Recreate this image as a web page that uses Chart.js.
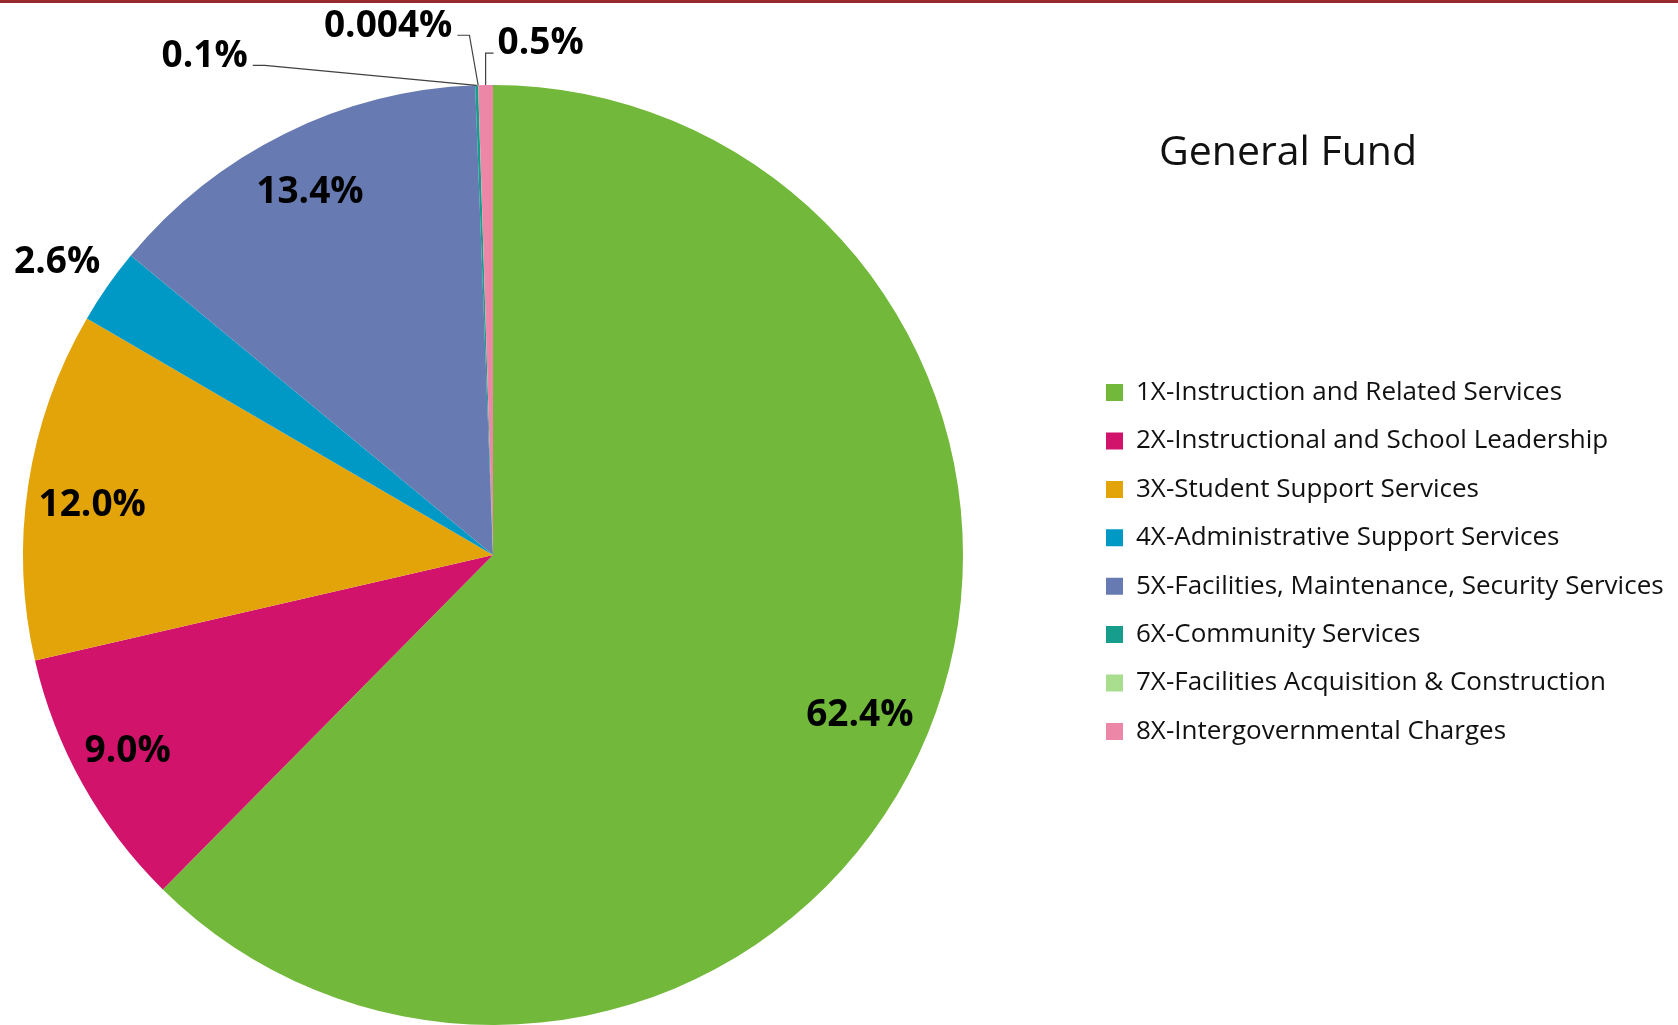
<!DOCTYPE html>
<html>
<head>
<meta charset="utf-8">
<title>General Fund</title>
<script src="https://cdn.jsdelivr.net/npm/chart.js@4.4.1/dist/chart.umd.min.js"></script>
<style>
  html, body { margin: 0; padding: 0; background: #fff; }
  #wrap { position: relative; width: 1678px; height: 1025px; overflow: hidden; }
  #topBar { position: absolute; left: 0; top: 0; width: 100%; height: 3px; background: #962a2e; }
</style>
</head>
<body>
<div id="wrap">
  <canvas id="fundChart"></canvas>
  <div id="topBar"></div>
</div>
<script>
var categories = [
  '1X-Instruction and Related Services',
  '2X-Instructional and School Leadership',
  '3X-Student Support Services',
  '4X-Administrative Support Services',
  '5X-Facilities, Maintenance, Security Services',
  '6X-Community Services',
  '7X-Facilities Acquisition & Construction',
  '8X-Intergovernmental Charges'
];
var shares = [62.4, 9.0, 12.0, 2.6, 13.4, 0.1, 0.004, 0.5];
var sliceColors = ['#72b83a', '#d1136c', '#e3a40a', '#0099c5', '#677bb2', '#169d8b', '#a8de8e', '#ed87a7'];
var chartTitle = 'General Fund';

var FONT = "'Open Sans', sans-serif";
var legendSize = 26;
var rowGap = 22.4;
var boxSize = 17;

// where the legend squares start and where the pie's area ends
var legendBoxX = 1106;
var pieRight = 986;

// label placement: share of the radius (+ small turn in degrees), or an offset from the slice edge
var labelPlacement = [
  {r: 0.85, turn: 1},
  {r: 0.88, turn: 1.2},
  {r: 0.86, turn: -1.2},
  {r: 1.12, turn: -0.8},
  {r: 0.87, turn: -0.3},
  {dx: -272, dy: -32, leader: true},
  {dx: -90, dy: -62, leader: true},
  {dx: 55, dy: -44, leader: true}
];

function measure(str, font) {
  var c = document.createElement('canvas').getContext('2d');
  c.font = font;
  return c.measureText(str).width;
}

function formatShare(v) {
  return (v < 0.01 ? v.toFixed(3) : v.toFixed(1)) + '%';
}

var widest = 0;
categories.forEach(function(c) {
  widest = Math.max(widest, measure(c, legendSize + 'px ' + FONT));
});
var legendLeft = legendBoxX - rowGap;
var legendWidth = rowGap + boxSize + legendSize / 2 + widest + 10;
var rightPad = Math.max(0, 1678 - legendLeft - legendWidth);
var gapWidth = legendLeft - pieRight;

// empty box between the pie and the legend
var legendGap = {
  id: 'legendGap',
  beforeInit: function(chart) {
    Chart.layouts.addBox(chart, {
      position: 'right',
      weight: 500,
      fullSize: false,
      options: {display: false},
      left: 0, top: 0, right: 0, bottom: 0, width: 0, height: 0,
      isHorizontal: function() { return false; },
      update: function(maxWidth, maxHeight) {
        this.width = gapWidth;
        this.height = maxHeight;
      },
      draw: function() {}
    });
  }
};

var valueLabels = {
  id: 'valueLabels',
  afterDatasetsDraw: function(chart) {
    var ctx = chart.ctx;
    var arcs = chart.getDatasetMeta(0).data;
    var size = 37;
    ctx.save();
    ctx.font = 'bold ' + size + 'px ' + FONT;
    ctx.fillStyle = '#000';
    ctx.textAlign = 'center';
    ctx.textBaseline = 'alphabetic';
    arcs.forEach(function(arc, i) {
      var p = arc.getProps(['x', 'y', 'startAngle', 'endAngle', 'outerRadius'], true);
      var mid = (p.startAngle + p.endAngle) / 2;
      var place = labelPlacement[i];
      var text = formatShare(shares[i]);
      var ax = p.x + Math.cos(mid) * p.outerRadius;
      var ay = p.y + Math.sin(mid) * p.outerRadius;
      var cx, cy;
      if (place.dx !== undefined) {
        cx = ax + place.dx;
        cy = ay + place.dy;
      } else {
        var a = mid + (place.turn || 0) * Math.PI / 180;
        cx = p.x + Math.cos(a) * p.outerRadius * place.r;
        cy = p.y + Math.sin(a) * p.outerRadius * place.r;
      }
      ctx.fillText(text, cx, cy + size * 0.36);

      if (place.leader) {
        var w = ctx.measureText(text).width;
        var sx, ex;
        var sy = cy + 12;
        if (cx < ax) {
          sx = cx + w / 2 + 5;
          ex = Math.min(ax, sx + 12);
        } else {
          sx = cx - w / 2 - 4;
          ex = Math.max(ax, sx - 12);
        }
        ctx.beginPath();
        ctx.moveTo(sx, sy);
        ctx.lineTo(ex, sy);
        ctx.lineTo(ax, ay);
        ctx.strokeStyle = '#404040';
        ctx.lineWidth = 1.2;
        ctx.stroke();
      }
    });
    ctx.restore();
  },
  afterDraw: function(chart) {
    var ctx = chart.ctx;
    ctx.save();
    ctx.font = '41px ' + FONT;
    ctx.fillStyle = '#111';
    ctx.textAlign = 'center';
    ctx.textBaseline = 'alphabetic';
    ctx.fillText(chartTitle, 1288, 165);
    ctx.restore();
  }
};

var fundChart = new Chart(document.getElementById('fundChart'), {
  type: 'pie',
  data: {
    labels: categories,
    datasets: [{
      data: shares,
      backgroundColor: sliceColors,
      borderWidth: 0,
      hoverOffset: 0
    }]
  },
  options: {
    responsive: true,
    maintainAspectRatio: false,
    animation: false,
    layout: {
      padding: {top: 85, bottom: 0, left: 0, right: rightPad}
    },
    plugins: {
      tooltip: {enabled: false},
      legend: {
        position: 'right',
        align: 'center',
        title: {display: true, text: '', padding: 0, font: {size: 14, lineHeight: 1}},
        labels: {
          boxWidth: boxSize,
          boxHeight: boxSize,
          padding: rowGap,
          color: '#111',
          font: {family: FONT, size: legendSize}
        }
      }
    }
  },
  plugins: [legendGap, valueLabels]
});
</script>
</body>
</html>
